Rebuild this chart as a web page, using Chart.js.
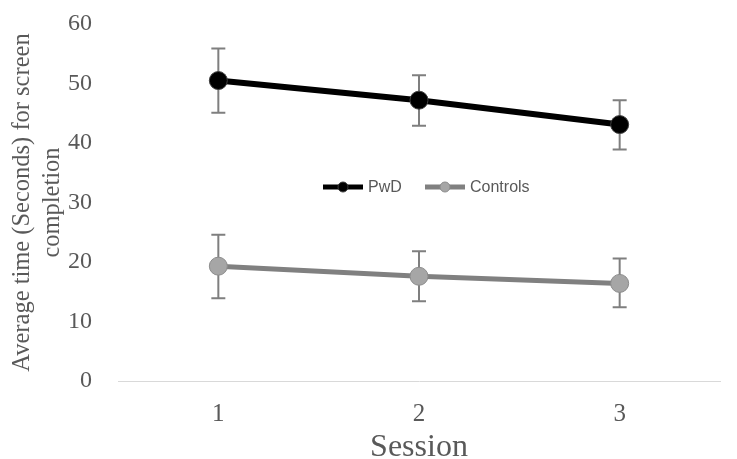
<!DOCTYPE html>
<html>
<head>
<meta charset="utf-8">
<script src="https://cdn.jsdelivr.net/npm/chart.js@4/dist/chart.umd.min.js"></script>
<style>
  body { margin: 0; background: #fff; }
  #wrap { width: 737px; height: 459px; }
</style>
</head>
<body>
<div id="wrap"><canvas id="lineChart" width="737" height="459"></canvas></div>
<script>
// data
var sessions = ["1", "2", "3"];
var pwdMean = [50.5, 47.2, 43.1];
var pwdUpper = [55.9, 51.4, 47.2];
var pwdLower = [45.1, 42.9, 38.9];
var controlsMean = [19.3, 17.6, 16.4];
var controlsUpper = [24.6, 21.8, 20.6];
var controlsLower = [13.9, 13.4, 12.4];
var seriesNames = ["PwD", "Controls"];

var serif = '"Liberation Serif", "Times New Roman", serif';

// error bars drawn under the points
var errorBars = {
  id: 'errorBars',
  beforeDatasetsDraw: function (chart) {
    var ctx = chart.ctx;
    var y = chart.scales.y;
    var bounds = [[pwdUpper, pwdLower], [controlsUpper, controlsLower]];
    ctx.save();
    ctx.strokeStyle = '#7f7f7f';
    ctx.lineWidth = 2;
    chart.data.datasets.forEach(function (ds, i) {
      var meta = chart.getDatasetMeta(i);
      meta.data.forEach(function (pt, j) {
        var top = y.getPixelForValue(bounds[i][0][j]);
        var bot = y.getPixelForValue(bounds[i][1][j]);
        ctx.beginPath();
        ctx.moveTo(pt.x, top); ctx.lineTo(pt.x, bot);
        ctx.moveTo(pt.x - 7, top); ctx.lineTo(pt.x + 7, top);
        ctx.moveTo(pt.x - 7, bot); ctx.lineTo(pt.x + 7, bot);
        ctx.stroke();
      });
    });
    ctx.restore();
  }
};

// legend sits in the middle of the plot
var middleLegend = {
  id: 'middleLegend',
  afterDraw: function (chart) {
    var ctx = chart.ctx;
    var yy = 187;
    var items = [
      { x: 323, line: '#000000', fill: '#000000', border: '#3a3a3a' },
      { x: 425, line: '#808080', fill: '#a6a6a6', border: '#8c8c8c' }
    ];
    ctx.save();
    ctx.font = '16px "Liberation Sans", Arial, sans-serif';
    ctx.textBaseline = 'middle';
    items.forEach(function (it, i) {
      ctx.strokeStyle = it.line;
      ctx.lineWidth = 5;
      ctx.beginPath(); ctx.moveTo(it.x, yy); ctx.lineTo(it.x + 40, yy); ctx.stroke();
      ctx.beginPath(); ctx.arc(it.x + 20, yy, 5, 0, Math.PI * 2);
      ctx.fillStyle = it.fill; ctx.fill();
      ctx.lineWidth = 1; ctx.strokeStyle = it.border; ctx.stroke();
      ctx.fillStyle = '#595959';
      ctx.fillText(seriesNames[i], it.x + 45, yy + 1);
    });
    ctx.restore();
  }
};

var lineData = {
  labels: sessions,
  datasets: [
    {
      label: seriesNames[0],
      data: pwdMean,
      borderColor: '#000000',
      borderWidth: 6,
      backgroundColor: '#000000',
      pointRadius: 9,
      pointBorderColor: '#404040',
      pointBorderWidth: 1,
      tension: 0
    },
    {
      label: seriesNames[1],
      data: controlsMean,
      borderColor: '#808080',
      borderWidth: 5,
      backgroundColor: '#a6a6a6',
      pointRadius: 9,
      pointBorderColor: '#8c8c8c',
      pointBorderWidth: 1,
      tension: 0
    }
  ]
};

var lineOptions = {
  responsive: false,
  animation: false,
  layout: { padding: { top: 24, right: 17, left: 8, bottom: 0 } },
  plugins: { legend: { display: false }, tooltip: { enabled: false } },
  scales: {
    x: {
      offset: true,
      grid: { display: false, drawTicks: false },
      border: { display: true, color: '#d9d9d9', width: 1 },
      ticks: { color: '#595959', padding: 21, font: { family: serif, size: 25, lineHeight: 1 } },
      title: { display: true, text: 'Session', color: '#595959', padding: { top: 0, bottom: -5 },
        font: { family: serif, size: 32, lineHeight: 1 } },
      afterFit: function (scale) { scale.height = 78; }
    },
    y: {
      min: 0, max: 60,
      grid: { display: false, drawTicks: false },
      border: { display: false },
      ticks: { stepSize: 10, color: '#595959', padding: 26, font: { family: serif, size: 24 } },
      title: { display: true, text: ['Average time (Seconds) for screen', 'completion'], color: '#595959',
        padding: 0,
        font: { family: serif, size: 24.5, lineHeight: 1.2 } },
      afterFit: function (scale) { scale.width = 110; scale.paddingTop = 0; scale.paddingBottom = 0; }
    }
  }
};

var ctx1 = document.getElementById("lineChart").getContext("2d");
new Chart(ctx1, { type: 'line', data: lineData, options: lineOptions, plugins: [errorBars, middleLegend] });
</script>
</body>
</html>
